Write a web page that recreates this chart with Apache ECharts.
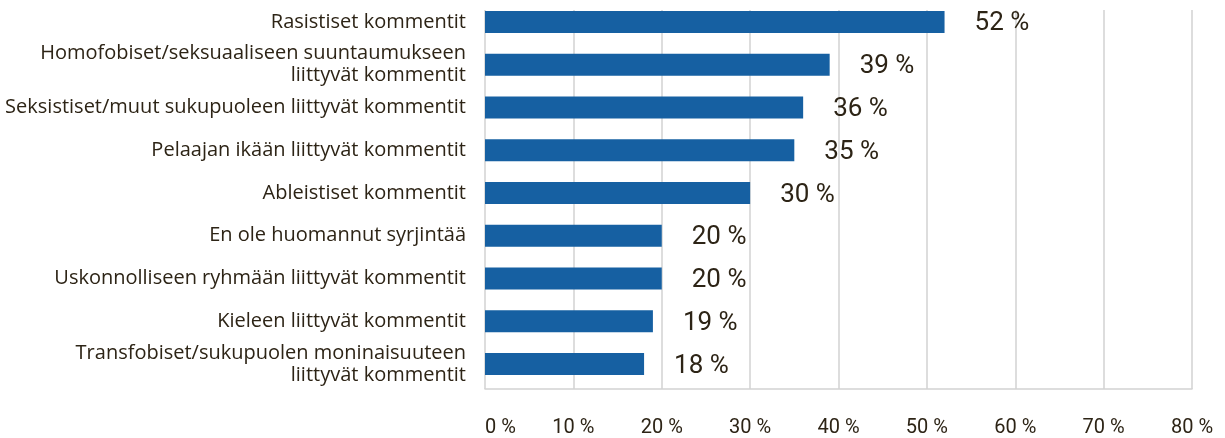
<!DOCTYPE html>
<html>
<head>
<meta charset="utf-8">
<script src="https://cdn.jsdelivr.net/npm/echarts@6/dist/echarts.min.js"></script>
<style>
  html, body { margin: 0; padding: 0; background: #ffffff; }
  #chart { width: 1225px; height: 438px; }
</style>
</head>
<body>
<div id="chart"></div>
<script>
// Havaitun syrjinnän tyypit, osuus vastaajista (%)
const categories = [
  'Rasistiset kommentit',
  'Homofobiset/seksuaaliseen suuntaumukseen\nliittyvät kommentit',
  'Seksistiset/muut sukupuoleen liittyvät kommentit',
  'Pelaajan ikään liittyvät kommentit',
  'Ableistiset kommentit',
  'En ole huomannut syrjintää',
  'Uskonnolliseen ryhmään liittyvät kommentit',
  'Kieleen liittyvät kommentit',
  'Transfobiset/sukupuolen moninaisuuteen\nliittyvät kommentit'
];
const values = [52, 39, 36, 35, 30, 20, 20, 19, 18];
const axisMin = 0;
const axisMax = 80;
const axisStep = 10;

const textColor = '#2d2416';
const gridColor = '#d2d2d2';
const barColor = '#1660a2';
const labelFont = '"Open Sans", Roboto, sans-serif';
const numberFont = 'Roboto, "Noto Sans", sans-serif';

const chart = echarts.init(document.getElementById('chart'), null, { renderer: 'canvas' });

chart.setOption({
  backgroundColor: '#ffffff',
  animation: false,
  grid: [
    // bars and category labels
    { left: 485, right: 33, top: 0.6, height: 384.8, containLabel: false },
    // value scale: gridlines, base line and tick labels
    { left: 485, right: 33, top: 10, bottom: 44.7, containLabel: false }
  ],
  xAxis: [
    { gridIndex: 0, type: 'value', min: axisMin, max: axisMax, interval: axisStep, show: false },
    {
      gridIndex: 1, type: 'value', min: axisMin, max: axisMax, interval: axisStep,
      axisLine: { show: true, lineStyle: { color: gridColor, width: 1.5 } },
      axisTick: { show: false },
      splitLine: { show: true, lineStyle: { color: gridColor, width: 1.5 } },
      axisLabel: {
        formatter: '{value} %',
        color: textColor,
        fontFamily: numberFont,
        fontSize: 20,
        margin: 29,
        alignMinLabel: 'left'
      }
    }
  ],
  yAxis: [
    {
      gridIndex: 0, type: 'category', data: categories, inverse: true,
      axisLine: { show: false },
      axisTick: { show: false },
      splitLine: { show: false },
      axisLabel: {
        color: textColor,
        fontFamily: labelFont,
        fontSize: 20,
        lineHeight: 22,
        margin: 19,
        align: 'right',
        padding: [3, 0, 0, 0]
      }
    },
    { gridIndex: 1, type: 'value', show: false }
  ],
  series: [
    {
      type: 'bar',
      xAxisIndex: 0,
      yAxisIndex: 0,
      data: values,
      barWidth: 22,
      itemStyle: { color: barColor },
      label: {
        show: true,
        position: 'right',
        distance: 30,
        offset: [0, 2],
        formatter: '{c} %',
        color: textColor,
        fontFamily: numberFont,
        fontSize: 26
      }
    }
  ]
});
</script>
</body>
</html>
